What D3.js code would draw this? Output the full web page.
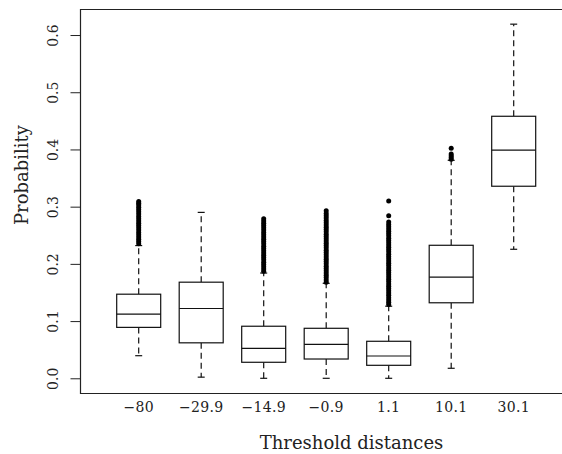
<!DOCTYPE html>
<html>
<head>
<meta charset="utf-8">
<script src="https://cdn.jsdelivr.net/npm/d3@7"></script>
<style>
  body { margin: 0; background: #fff; }
  svg { display: block; font-family: "DejaVu Serif", serif; }
</style>
</head>
<body>
<div id="chart"></div>
<script>
// threshold distance groups and their box stats
const categories = ["\u221280", "\u221229.9", "\u221214.9", "\u22120.9", "1.1", "10.1", "30.1"];
const whiskerLow = [0.0395, 0.002, 0.0, 0.0, 0.0, 0.0175, 0.2255];
const q1 = [0.089, 0.062, 0.028, 0.0337, 0.0227, 0.132, 0.3357];
const medians = [0.112, 0.122, 0.0524, 0.0594, 0.039, 0.177, 0.399];
const q3 = [0.147, 0.168, 0.091, 0.0874, 0.0647, 0.2325, 0.458];
const whiskerHigh = [0.232, 0.290, 0.184, 0.166, 0.126, 0.381, 0.619];

// outliers (dense columns)
const outliers = [
  [0.235, 0.239, 0.243, 0.247, 0.251, 0.255, 0.259, 0.263, 0.267, 0.271, 0.275, 0.279, 0.283, 0.287, 0.291, 0.295, 0.299, 0.303, 0.306, 0.309],
  [],
  [0.187, 0.191, 0.195, 0.199, 0.203, 0.207, 0.211, 0.215, 0.219, 0.223, 0.227, 0.231, 0.235, 0.239, 0.243, 0.247, 0.251, 0.255, 0.259, 0.263, 0.267, 0.271, 0.275, 0.279],
  [0.168, 0.172, 0.176, 0.180, 0.184, 0.188, 0.192, 0.196, 0.200, 0.204, 0.208, 0.212, 0.216, 0.220, 0.224, 0.228, 0.232, 0.236, 0.240, 0.244, 0.248, 0.252, 0.256, 0.260, 0.264, 0.268, 0.272, 0.276, 0.280, 0.284, 0.288, 0.293],
  [0.129, 0.133, 0.137, 0.141, 0.145, 0.149, 0.153, 0.157, 0.161, 0.165, 0.169, 0.173, 0.177, 0.181, 0.185, 0.189, 0.193, 0.197, 0.201, 0.205, 0.209, 0.213, 0.217, 0.221, 0.225, 0.229, 0.233, 0.237, 0.241, 0.245, 0.249, 0.253, 0.257, 0.261, 0.265, 0.269, 0.273, 0.284, 0.310],
  [0.383, 0.386, 0.389, 0.392, 0.402],
  []
];
const yTicks = [0.0, 0.1, 0.2, 0.3, 0.4, 0.5, 0.6];

const width = 562, height = 454;
const plot = { left: 80, top: 9, bottom: 393 };
const boxWidth = 44, capHalf = 3.5;

const svg = d3.select("#chart").append("svg")
    .attr("width", width)
    .attr("height", height);

const x = d3.scalePoint()
    .domain(categories)
    .range([138.7, 513.7]);

const y = d3.scaleLinear()
    .domain([-0.0257, 0.6455])
    .range([plot.bottom, plot.top]);

// frame (cut off on the right like the original)
svg.append("path")
    .attr("d", `M${width + 20},${plot.top + 0.5}H${plot.left + 0.5}V${plot.bottom + 0.5}H${width + 20}`)
    .attr("fill", "none")
    .attr("stroke", "#222")
    .attr("stroke-width", 1.2);

// y axis
const yAxis = svg.append("g")
    .attr("class", "y axis")
    .attr("transform", `translate(${plot.left + 0.5},0)`)
    .call(d3.axisLeft(y).tickValues(yTicks).tickSize(10).tickFormat(d3.format(".1f")));

yAxis.select(".domain")
    .attr("d", `M0,${y(0)}V${y(0.6)}`)
    .attr("stroke", "#222");
yAxis.selectAll(".tick line").attr("stroke", "#222");
yAxis.selectAll(".tick text")
    .attr("transform", "rotate(-90)")
    .attr("x", 0)
    .attr("y", -23)
    .attr("dy", 0)
    .attr("text-anchor", "middle")
    .attr("fill", "#222")
    .style("font-family", "DejaVu Serif")
    .style("font-size", "14px");

// x labels
svg.append("g")
    .attr("class", "x labels")
    .selectAll("text")
    .data(categories)
    .join("text")
    .attr("x", d => x(d))
    .attr("y", 411.5)
    .attr("text-anchor", "middle")
    .attr("fill", "#222")
    .style("font-size", "14px")
    .style("letter-spacing", "0.3px")
    .text(d => d);

// axis titles
svg.append("text")
    .attr("x", 351.5)
    .attr("y", 449)
    .attr("text-anchor", "middle")
    .attr("fill", "#222")
    .style("font-size", "18px")
    .text("Threshold distances");

svg.append("text")
    .attr("transform", "translate(28,175) rotate(-90)")
    .attr("text-anchor", "middle")
    .attr("fill", "#222")
    .style("font-size", "18px")
    .text("Probability");

// boxes
const boxes = svg.append("g").attr("class", "boxes")
    .selectAll("g")
    .data(categories.map((c, i) => ({ c, i })))
    .join("g")
    .attr("transform", d => `translate(${x(d.c)},0)`);

// whiskers (dashed)
boxes.append("line")
    .attr("x1", 0).attr("x2", 0)
    .attr("y1", d => y(q3[d.i])).attr("y2", d => y(whiskerHigh[d.i]))
    .attr("stroke", "#111").attr("stroke-width", 1.2).attr("stroke-dasharray", "6,4");
boxes.append("line")
    .attr("x1", 0).attr("x2", 0)
    .attr("y1", d => y(q1[d.i])).attr("y2", d => y(whiskerLow[d.i]))
    .attr("stroke", "#111").attr("stroke-width", 1.2).attr("stroke-dasharray", "6,4");

// caps
boxes.append("line")
    .attr("x1", -capHalf).attr("x2", capHalf)
    .attr("y1", d => y(whiskerHigh[d.i])).attr("y2", d => y(whiskerHigh[d.i]))
    .attr("stroke", "#111").attr("stroke-width", 1.2);
boxes.append("line")
    .attr("x1", -capHalf).attr("x2", capHalf)
    .attr("y1", d => y(whiskerLow[d.i])).attr("y2", d => y(whiskerLow[d.i]))
    .attr("stroke", "#111").attr("stroke-width", 1.2);

boxes.append("rect")
    .attr("x", -boxWidth / 2)
    .attr("width", boxWidth)
    .attr("y", d => y(q3[d.i]))
    .attr("height", d => y(q1[d.i]) - y(q3[d.i]))
    .attr("fill", "#fff")
    .attr("stroke", "#111")
    .attr("stroke-width", 1.2);

boxes.append("line")
    .attr("x1", -boxWidth / 2).attr("x2", boxWidth / 2)
    .attr("y1", d => y(medians[d.i])).attr("y2", d => y(medians[d.i]))
    .attr("stroke", "#111")
    .attr("stroke-width", 1.2);

// outlier dots
boxes.selectAll("circle")
    .data(d => outliers[d.i])
    .join("circle")
    .attr("cx", 0)
    .attr("cy", v => y(v))
    .attr("r", 2.5)
    .attr("fill", "#000");
</script>
</body>
</html>
